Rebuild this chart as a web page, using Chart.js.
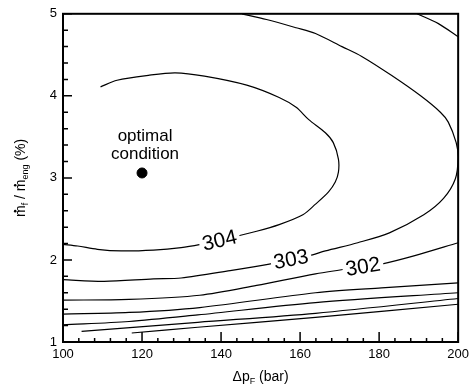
<!DOCTYPE html>
<html>
<head>
<meta charset="utf-8">
<script src="https://cdn.jsdelivr.net/npm/chart.js@4.4.0/dist/chart.umd.min.js"></script>
<style>
  html, body { margin: 0; padding: 0; background: #fff; }
  #wrap { width: 474px; height: 387px; }
</style>
</head>
<body>
<div id="wrap"><canvas id="c" width="474" height="387"></canvas></div>
<script>
// axis ranges / ticks
const xTicks = [100, 120, 140, 160, 180, 200];
const yTicks = [1, 2, 3, 4, 5];

// contour lines, [dp_F (bar), mf/meng (%)]
const c304 = [[109.5,4.11],[113.7,4.19],[121.6,4.25],[128.4,4.28],[135.8,4.24],[146.5,4.13],[154.7,3.98],[159.0,3.86],[162.2,3.71],[166.4,3.55],[168.4,3.43],[169.7,3.23],[169.7,3.07],[168.9,2.95],[167.2,2.83],[163.9,2.68],[160.7,2.55],[154.7,2.43],[149.0,2.35],[139.6,2.24],[134.8,2.19],[129.9,2.15],[122.9,2.12],[114.7,2.11],[108.7,2.13],[103.7,2.17],[100,2.19]];
const c303 = [[100,1.76],[110.4,1.74],[122.9,1.77],[129.9,1.78],[142.3,1.87],[152.2,1.95],[157.7,2.01],[162.2,2.05],[166.4,2.11],[174.6,2.21],[182.6,2.33],[191.3,2.55],[196.3,2.75],[199.3,2.99],[200,3.25],[199.5,3.43],[197.5,3.68],[195.5,3.80],[190.5,4.00],[183.1,4.25],[175.6,4.48],[170.6,4.60],[163.9,4.76],[159.0,4.83],[151.5,4.93],[145.3,5.0]];
const c302 = [[100,1.51],[116.7,1.52],[134.6,1.57],[149.0,1.69],[163.9,1.83],[175.9,1.92],[180.6,1.95],[188.8,2.05],[200,2.21]];
const c301 = [[100,1.34],[116.7,1.36],[134.6,1.42],[163.9,1.60],[180.6,1.66],[200,1.72]];
const c300 = [[100,1.21],[116.7,1.25],[134.1,1.33],[163.9,1.48],[200,1.60]];
const c299 = [[104.7,1.13],[134.1,1.24],[163.9,1.35],[200,1.53]];
const c298 = [[117.4,1.11],[134.1,1.18],[163.9,1.30],[200,1.46]];
const cCorner = [[189.6,5.0],[195.0,4.88],[200,4.72]];

const contours = [c304, c303, c302, c301, c300, c299, c298, cCorner];

// labels sitting on the contours
const labelText = ['304', '303', '302'];
const labelX = [139.6, 157.7, 175.9];
const labelY = [2.24, 2.01, 1.92];
const labelAngle = [-13, -11, -9];

const optimum = [{ x: 120, y: 3.06 }];

const FONT = '"Liberation Sans", Arial, Helvetica, sans-serif';

function toPts(arr) { return arr.map(p => ({ x: p[0], y: p[1] })); }

function drawRich(ctx, parts, cx, baseY, size) {
  const subSize = Math.round(size * 0.65);
  let w = 0;
  parts.forEach(p => {
    ctx.font = (p.sub ? subSize : size) + 'px ' + FONT;
    p.w = ctx.measureText(p.t).width;
    w += p.w;
  });
  let x = cx - w / 2;
  ctx.textAlign = 'left';
  ctx.textBaseline = 'alphabetic';
  parts.forEach(p => {
    ctx.font = (p.sub ? subSize : size) + 'px ' + FONT;
    ctx.fillText(p.t, x, baseY + (p.sub ? 3 : 0));
    if (p.dot) {
      ctx.beginPath();
      ctx.arc(x + p.w / 2, baseY - size * 0.52 - 2.5, 1.3, 0, Math.PI * 2);
      ctx.fill();
    }
    x += p.w;
  });
}

const decor = {
  id: 'decor',
  afterDatasetsDraw(chart) {
    const { ctx, chartArea: a, scales: { x, y } } = chart;
    ctx.save();
    ctx.fillStyle = '#000';
    ctx.strokeStyle = '#000';

    // contour labels
    labelText.forEach((t, i) => {
      const px = x.getPixelForValue(labelX[i]);
      const py = y.getPixelForValue(labelY[i]);
      ctx.save();
      ctx.translate(px, py);
      ctx.rotate(labelAngle[i] * Math.PI / 180);
      ctx.font = '21px ' + FONT;
      const w = ctx.measureText(t).width;
      ctx.fillStyle = '#fff';
      ctx.fillRect(-w / 2 - 3, -9, w + 6, 18);
      ctx.fillStyle = '#000';
      ctx.textAlign = 'center';
      ctx.textBaseline = 'middle';
      ctx.fillText(t, 0, 1);
      ctx.restore();
    });

    // optimal condition text
    ctx.font = '17px ' + FONT;
    ctx.textAlign = 'center';
    ctx.textBaseline = 'alphabetic';
    const ox = x.getPixelForValue(optimum[0].x);
    const oy = y.getPixelForValue(optimum[0].y);
    ctx.fillText('optimal', ox + 3, oy - 32);
    ctx.fillText('condition', ox + 3, oy - 14);

    // frame
    ctx.lineWidth = 2;
    ctx.strokeRect(a.left, a.top, a.right - a.left, a.bottom - a.top);

    // inward ticks
    ctx.lineWidth = 1.5;
    ctx.beginPath();
    for (let i = 0; i <= 25; i++) {
      const v = x.min + i * 4;
      const px = x.getPixelForValue(v);
      const len = i % 5 === 0 ? 10 : 4;
      ctx.moveTo(px, a.bottom);
      ctx.lineTo(px, a.bottom - len);
    }
    for (let i = 0; i <= 20; i++) {
      const v = y.min + i * 0.2;
      const py = y.getPixelForValue(v);
      const len = i % 5 === 0 ? 9 : 5;
      ctx.moveTo(a.left, py);
      ctx.lineTo(a.left + len, py);
    }
    ctx.stroke();

    // axis titles
    drawRich(ctx, [{ t: '\u0394p' }, { t: 'F', sub: true }, { t: ' (bar)' }],
      (a.left + a.right) / 2, 381, 14);
    ctx.save();
    ctx.translate(20, (a.top + a.bottom) / 2);
    ctx.rotate(-Math.PI / 2);
    drawRich(ctx, [{ t: 'm', dot: true }, { t: 'f', sub: true }, { t: ' / ' },
      { t: 'm', dot: true }, { t: 'eng', sub: true }, { t: ' (%)' }], 0, 5, 14);
    ctx.restore();

    ctx.restore();
  }
};

const datasets = contours.map(c => ({
  data: toPts(c),
  showLine: true,
  borderColor: '#000',
  borderWidth: 1.2,
  pointRadius: 0,
  tension: 0.3,
  fill: false
}));
datasets.push({
  data: optimum,
  showLine: false,
  pointRadius: 5,
  pointBackgroundColor: '#000',
  pointBorderColor: '#000'
});

new Chart(document.getElementById('c'), {
  type: 'scatter',
  data: { datasets },
  options: {
    responsive: false,
    animation: false,
    layout: { padding: { top: 10, right: 9, left: 0, bottom: 0 } },
    plugins: { legend: { display: false }, tooltip: { enabled: false } },
    scales: {
      x: {
        type: 'linear', min: 100, max: 200,
        afterBuildTicks: s => { s.ticks = xTicks.map(v => ({ value: v })); },
        afterFit: s => { s.height = 45; },
        grid: { display: false, drawTicks: false },
        border: { display: false },
        ticks: { color: '#000', font: { size: 13, family: FONT }, padding: 5, maxRotation: 0, autoSkip: false }
      },
      y: {
        type: 'linear', min: 1, max: 5,
        afterBuildTicks: s => { s.ticks = yTicks.map(v => ({ value: v })); },
        afterFit: s => { s.width = 63; },
        grid: { display: false, drawTicks: false },
        border: { display: false },
        ticks: { color: '#000', font: { size: 13, family: FONT }, padding: 6 }
      }
    }
  },
  plugins: [decor]
});
</script>
</body>
</html>
